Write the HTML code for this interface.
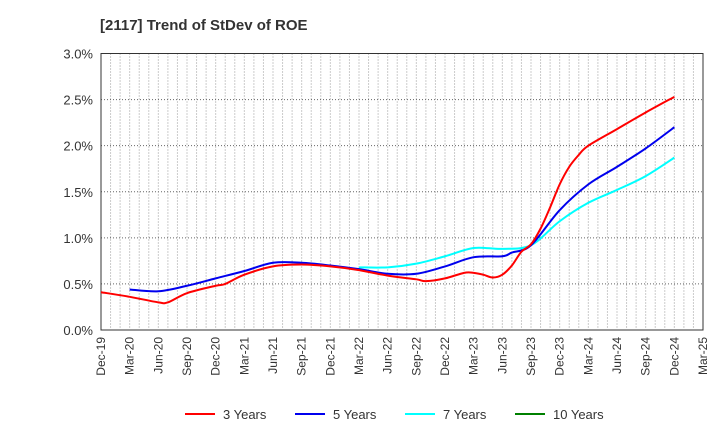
<!DOCTYPE html>
<html><head><meta charset="utf-8"><style>
body{margin:0;background:#fff;font-family:"Liberation Sans",sans-serif;}
svg text{font-family:"Liberation Sans",sans-serif;}
</style></head><body>
<svg id="chart" width="720" height="440" xmlns="http://www.w3.org/2000/svg">
<text x="100" y="30" font-size="15" font-weight="bold" fill="#333">[2117]  Trend of StDev of ROE</text>
<g id="grid"></g><g id="axes"></g><g id="series"></g><g id="legend"></g>
</svg>
<script>
const xLabels=["Dec-19","Mar-20","Jun-20","Sep-20","Dec-20","Mar-21","Jun-21","Sep-21","Dec-21","Mar-22","Jun-22","Sep-22","Dec-22","Mar-23","Jun-23","Sep-23","Dec-23","Mar-24","Jun-24","Sep-24","Dec-24","Mar-25"];
const yTicks=[0,0.5,1.0,1.5,2.0,2.5,3.0];
const months3=[0,3,6,7,9,12,13,15,18,21,24,27,30,33,34,36,38,39,40,41,42,43,44,45,46,47,48,49,50,51,54,57,60];
const vals3=[0.41,0.36,0.30,0.30,0.40,0.48,0.50,0.60,0.69,0.71,0.69,0.65,0.59,0.55,0.53,0.56,0.62,0.62,0.60,0.57,0.60,0.70,0.85,0.93,1.10,1.33,1.58,1.77,1.90,2.00,2.18,2.36,2.53];
const months5=[3,6,9,12,15,18,21,24,27,30,33,36,39,42,43,45,48,51,54,57,60];
const vals5=[0.44,0.42,0.48,0.56,0.64,0.73,0.73,0.70,0.66,0.61,0.61,0.69,0.79,0.80,0.84,0.92,1.30,1.58,1.77,1.97,2.20];
const months7=[27,30,33,36,39,42,45,48,51,54,57,60];
const vals7=[0.68,0.68,0.72,0.80,0.89,0.88,0.92,1.18,1.38,1.52,1.67,1.87];
const seriesNames=["3 Years","5 Years","7 Years","10 Years"];
const seriesColors=["#ff0000","#0000ee","#00ffff","#008000"];

const X0=101,X1=703,Y0=330,Y1=53.5,NM=63;
const xs=m=>X0+(X1-X0)*m/NM;
const ys=v=>Y0-(Y0-Y1)*v/3.0;
const NS="http://www.w3.org/2000/svg";
function mk(t,a,p){const e=document.createElementNS(NS,t);for(const k in a)e.setAttribute(k,a[k]);p.appendChild(e);return e;}
const grid=document.getElementById('grid'),axes=document.getElementById('axes'),ser=document.getElementById('series'),leg=document.getElementById('legend');
for(let m=1;m<NM;m++){const l=mk('line',{x1:xs(m),x2:xs(m),y1:Y1,y2:Y0,stroke:'#999','stroke-dasharray':'1,2','stroke-width':1},grid);

}
yTicks.forEach(v=>{if(v>0&&v<3){const l=mk('line',{x1:X0,x2:X1,y1:ys(v),y2:ys(v),stroke:'#666','stroke-dasharray':'1,2'},grid);

}
const t=mk('text',{x:X0-8,y:ys(v)+5,'text-anchor':'end','font-size':13,fill:'#333'},axes);t.textContent=v.toFixed(1)+'%';

});
const fr=mk('rect',{x:X0,y:Y1,width:X1-X0,height:Y0-Y1,fill:'none',stroke:'#333','stroke-width':1},axes);


xLabels.forEach((s,i)=>{const x=xs(i*3);const t=mk('text',{x:0,y:0,transform:`translate(${x+4},${Y0+7}) rotate(-90)`,'text-anchor':'end','font-size':12,fill:'#333'},axes);t.textContent=s;

});
function path(ms,vs){const p=ms.map((m,i)=>[xs(m),ys(vs[i])]);let d=`M${p[0][0]},${p[0][1]}`;
for(let i=0;i<p.length-1;i++){const a=p[i-1]||p[i],b=p[i],c=p[i+1],e=p[i+2]||c;
d+=` C${b[0]+(c[0]-a[0])/6},${b[1]+(c[1]-a[1])/6} ${c[0]-(e[0]-b[0])/6},${c[1]-(e[1]-b[1])/6} ${c[0]},${c[1]}`;}return d;}
[[months7,vals7,2,'line-7-years'],[months5,vals5,1,'line-5-years'],[months3,vals3,0,'line-3-years']].forEach(([m,v,c,n])=>{
const p=mk('path',{d:path(m,v),fill:'none',stroke:seriesColors[c],'stroke-width':2},ser);

});
const lx=[185,295,405,515];
seriesNames.forEach((s,i)=>{const g=mk('g',{},leg);


mk('line',{x1:lx[i],x2:lx[i]+30,y1:414,y2:414,stroke:seriesColors[i],'stroke-width':2},g);
const t=mk('text',{x:lx[i]+38,y:419,'font-size':13,fill:'#333'},g);t.textContent=s;});
</script>
</body></html>
